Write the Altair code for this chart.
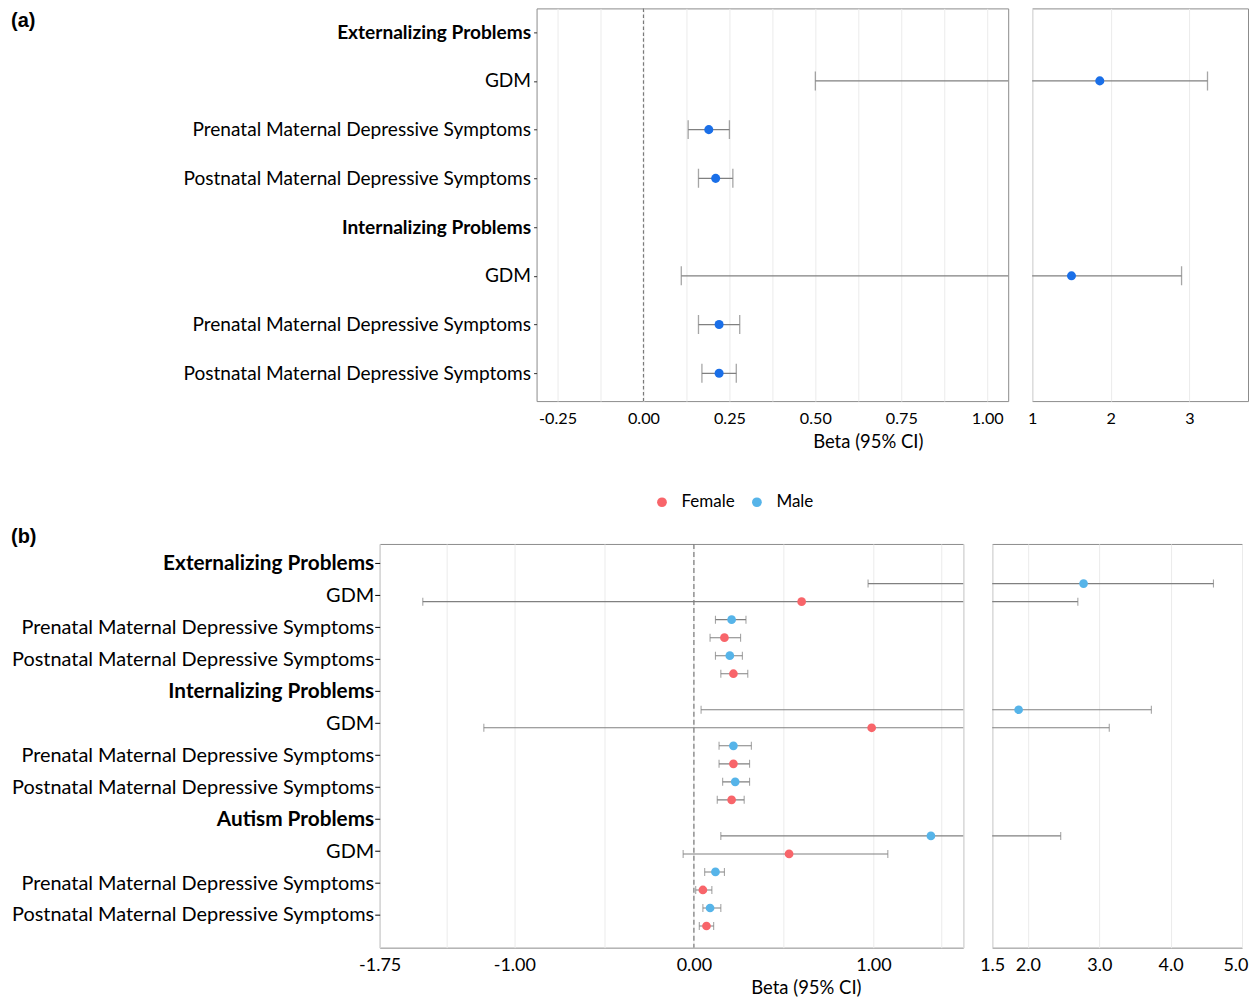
import altair as alt
import pandas as pd

FONT = "Lato"
GREY = "#808080"
BLUE_A = "#1a6fe8"
FEMALE = "#F8656A"
MALE = "#56B4E9"
MINUS = "\u2212"

# ---------------- panel (a) data ----------------
a_labels = ["Externalizing Problems", "GDM", "Prenatal Maternal Depressive Symptoms",
            "Postnatal Maternal Depressive Symptoms", "Internalizing Problems", "GDM",
            "Prenatal Maternal Depressive Symptoms", "Postnatal Maternal Depressive Symptoms"]
a_beta = [None, 1.86, 0.19, 0.21, None, 1.50, 0.22, 0.22]
a_lo = [None, 0.50, 0.13, 0.16, None, 0.11, 0.16, 0.17]
a_hi = [None, 3.23, 0.25, 0.26, None, 2.90, 0.28, 0.27]
a_left_ticks = [-0.25, -0.125, 0.0, 0.125, 0.25, 0.375, 0.5, 0.625, 0.75, 0.875, 1.0]
a_right_ticks = [1, 2, 3]

# ---------------- panel (b) data ----------------
b_labels = ["Externalizing Problems", "GDM", "Prenatal Maternal Depressive Symptoms",
            "Postnatal Maternal Depressive Symptoms", "Internalizing Problems", "GDM",
            "Prenatal Maternal Depressive Symptoms", "Postnatal Maternal Depressive Symptoms",
            "Autism Problems", "GDM", "Prenatal Maternal Depressive Symptoms",
            "Postnatal Maternal Depressive Symptoms"]
b_outcomes = ["Externalizing Problems", "Internalizing Problems", "Autism Problems"]
b_exposures = ["GDM", "Prenatal Maternal Depressive Symptoms", "Postnatal Maternal Depressive Symptoms"]
male_beta = [2.78, 0.21, 0.20, 1.87, 0.22, 0.23, 1.32, 0.12, 0.09]
male_lo = [0.97, 0.12, 0.12, 0.04, 0.14, 0.16, 0.15, 0.06, 0.05]
male_hi = [4.60, 0.29, 0.27, 3.73, 0.32, 0.31, 2.46, 0.17, 0.15]
female_beta = [0.60, 0.17, 0.22, 0.99, 0.22, 0.21, 0.53, 0.05, 0.07]
female_lo = [-1.51, 0.09, 0.15, -1.17, 0.14, 0.13, -0.06, 0.01, 0.03]
female_hi = [2.70, 0.26, 0.30, 3.14, 0.31, 0.28, 1.08, 0.10, 0.11]
b_left_ticks = [-1.75, -1.375, -1.0, -0.5, 0.0, 0.5, 1.0, 1.375, 1.5]
b_left_labelled = [-1.75, -1, 0, 1]
b_right_ticks = [1.5, 2, 3, 4, 5]

# ---------------- tables ----------------
a_keys = [f"{i}|{t}" for i, t in enumerate(a_labels)]
df_a = pd.DataFrame({"key": a_keys, "beta": a_beta, "lo": a_lo, "hi": a_hi})

b_keys = [f"{i}|{t}" for i, t in enumerate(b_labels)]
rows = []
for i in range(len(male_beta)):
    o, e = divmod(i, 3)
    slot = o * 7 + 1 + e * 2
    rows.append({"outcome": b_outcomes[o], "exposure": b_exposures[e], "sex": "Male",
                 "slot": slot, "beta": male_beta[i], "lo": male_lo[i], "hi": male_hi[i]})
    rows.append({"outcome": b_outcomes[o], "exposure": b_exposures[e], "sex": "Female",
                 "slot": slot + 1, "beta": female_beta[i], "lo": female_lo[i], "hi": female_hi[i]})
df_b = pd.DataFrame(rows)
df_zero = pd.DataFrame({"z": [0.0]})

IS_HEAD = "indexof(datum.value, 'Problems') >= 0"
bold_cond = {"condition": {"test": IS_HEAD, "value": "bold"}, "value": "normal"}
HIDDEN_VIEW = alt.ViewBackground(strokeOpacity=0)


def x_axis(values, label_expr, size, pad, title=None, tx=None, ty=None, **extra):
    kw = dict(values=values, labelExpr=label_expr, labelFont=FONT, labelFontSize=size,
              labelColor="#000", labelPadding=pad, labelFlush=False, labelOverlap=False,
              ticks=False, tickSize=0, domain=False, grid=True, gridColor="#ebebeb", gridWidth=1)
    if title:
        kw.update(title=title, titleX=tx, titleY=ty, titleAlign="center", titleBaseline="middle",
                  titleFont=FONT, titleFontSize=18.5, titleFontWeight="normal", titleColor="#000")
    else:
        kw.update(title=None)
    kw.update(extra)
    return alt.Axis(**kw)


def tag_chart(text, x, y, w, h):
    return alt.Chart(pd.DataFrame({"tag": [text]})).mark_text(
        align="left", baseline="middle", font="Liberation Sans", fontSize=20, fontWeight="bold",
        color="#000", x=x, y=y).encode(text="tag:N").properties(width=w, height=h, view=HIDDEN_VIEW)


# ---------------- panel (a) ----------------
A_H = 393


def a_panel(domain, axis, width, left):
    xs = alt.Scale(domain=domain, nice=False, zero=False)
    if left:
        yax = alt.Axis(title=None, labelExpr="split(datum.value, '|')[1]", labelFont=FONT,
                       labelFontSize=19.1, labelColor="#000", labelFontWeight=bold_cond,
                       labelPadding=3, labelLimit=1000, tickSize=3, tickColor="#333",
                       domain=False, grid=False, minExtent=528, maxExtent=600)
    else:
        yax = None
    y = alt.Y("key:N", sort=a_keys,
              scale=alt.Scale(type="point", domain=a_keys, padding=0.529, align=0.461), axis=yax)
    base = alt.Chart(df_a)
    rule = base.mark_rule(clip=True, color=GREY, strokeWidth=1.3).encode(
        x=alt.X("lo:Q", scale=xs, axis=axis), x2="hi:Q", y=y)
    cap_lo = base.mark_tick(clip=True, orient="vertical", size=19, thickness=1.3, color=GREY).encode(
        x=alt.X("lo:Q"), y=y)
    cap_hi = base.mark_tick(clip=True, orient="vertical", size=19, thickness=1.3, color=GREY).encode(
        x=alt.X("hi:Q"), y=y)
    pts = base.mark_circle(clip=True, opacity=1, size=82, color=BLUE_A).encode(x=alt.X("beta:Q"), y=y)
    layers = [rule, cap_lo, cap_hi, pts]
    if left:
        zero = alt.Chart(df_zero).mark_rule(color="#7a7a7a", strokeDash=[3.5, 2.5], strokeWidth=1.2).encode(
            x=alt.X("z:Q"))
        layers = [zero] + layers
    return alt.layer(*layers).properties(width=width, height=A_H)


lab_a_left = (f"abs(datum.value*4 - round(datum.value*4)) < 0.001 ? "
              f"replace(format(datum.value, '.2f'), '{MINUS}', '-') : ''")
a_left = a_panel([-0.311, 1.061], x_axis(a_left_ticks, lab_a_left, 16.2, 9, "Beta (95% CI)", 331.5, 40),
                 472, True)
a_right = a_panel([1.0, 3.745], x_axis(a_right_ticks, "format(datum.value, 'd')", 16.2, 9), 216, False)
a_tag = tag_chart("(a)", -369, 13, 133, A_H)
row_a = alt.hconcat(a_tag, a_left, a_right, spacing=24, bounds="flush")

# ---------------- panel (b) ----------------
B_H = 404
color = alt.Color("sex:N", scale=alt.Scale(domain=["Female", "Male"], range=[FEMALE, MALE]),
                  legend=alt.Legend(orient="none", legendX=274, legendY=485.5, direction="horizontal",
                                    title=None, labelFont=FONT, labelFontSize=17, labelColor="#000",
                                    symbolType="circle", symbolSize=95, symbolOpacity=1,
                                    symbolStrokeWidth=0, labelOffset=11, columnPadding=13, padding=0))


def b_panel(domain, axis, width, left):
    xs = alt.Scale(domain=domain, nice=False, zero=False)
    y = alt.Y("slot:Q", scale=alt.Scale(domain=[-1.2, 21.2], reverse=True, nice=False, zero=False),
              axis=None)
    base = alt.Chart(df_b)
    rule = base.mark_rule(clip=True, color=GREY, strokeWidth=1.1).encode(
        x=alt.X("lo:Q", scale=xs, axis=axis), x2="hi:Q", y=y)
    cap_lo = base.mark_tick(clip=True, orient="vertical", size=8, thickness=1.1, color=GREY).encode(
        x=alt.X("lo:Q"), y=y)
    cap_hi = base.mark_tick(clip=True, orient="vertical", size=8, thickness=1.1, color=GREY).encode(
        x=alt.X("hi:Q"), y=y)
    pts = base.mark_circle(clip=True, opacity=1, size=76).encode(x=alt.X("beta:Q"), y=y, color=color)
    layers = [rule, cap_lo, cap_hi, pts]
    if left:
        yax = alt.Axis(orient="left", title=None, labelExpr="split(datum.value, '|')[1]",
                       labelFont=FONT, labelColor="#000",
                       labelFontSize={"condition": {"test": IS_HEAD, "value": 20.8}, "value": 19.9},
                       labelFontWeight=bold_cond, labelPadding=1, labelLimit=1000,
                       tickSize=5, tickColor="#000", tickWidth=1, domain=False, grid=False,
                       minExtent=371, maxExtent=600)
        lab = alt.Chart(pd.DataFrame({"key": b_keys})).mark_point(opacity=0).encode(
            y=alt.Y("key:N", sort=b_keys,
                    scale=alt.Scale(type="point", domain=b_keys, padding=0.813, align=0.372),
                    axis=yax))
        zero = alt.Chart(df_zero).mark_rule(color="#6e6e6e", strokeDash=[5, 3], strokeWidth=1.1).encode(
            x=alt.X("z:Q"))
        tag = alt.Chart(pd.DataFrame({"tag": ["(b)"]})).mark_text(
            align="left", baseline="middle", font="Liberation Sans", fontSize=20, fontWeight="bold",
            color="#000", x=-369, y=-7).encode(text="tag:N")
        layers = [lab, zero] + layers + [tag]
        return alt.layer(*layers).resolve_scale(y="independent").properties(width=width, height=B_H)
    return alt.layer(*layers).properties(width=width, height=B_H)


lab_b_left = (f"indexof({b_left_labelled}, datum.value) >= 0 ? "
              f"replace(format(datum.value, '.2f'), '{MINUS}', '-') : ''")
b_left = b_panel([-1.75, 1.5], x_axis(b_left_ticks, lab_b_left, 18, 9, "Beta (95% CI)", 426.5, 40),
                 584, True)
b_right = b_panel([1.5, 5.0], x_axis(
    b_right_ticks, "format(datum.value, '.1f')", 18, 9,
    labelAlign={"condition": {"test": "datum.value >= 5", "value": "right"}, "value": "center"},
    labelOffset={"condition": {"test": "datum.value >= 5", "value": 6}, "value": 0}), 250, False)
row_b = alt.hconcat(b_left, b_right, spacing=29, bounds="flush")

chart = alt.concat(row_a, row_b, columns=1, bounds="full", spacing=75,
                   padding={"top": -2, "bottom": 0, "left": 0, "right": 0}).configure_view(
    stroke="#8c8c8c", strokeWidth=1).configure_axis(labelFont=FONT, titleFont=FONT)

chart.save("out.html", embed_options={"renderer": "svg", "actions": False})
